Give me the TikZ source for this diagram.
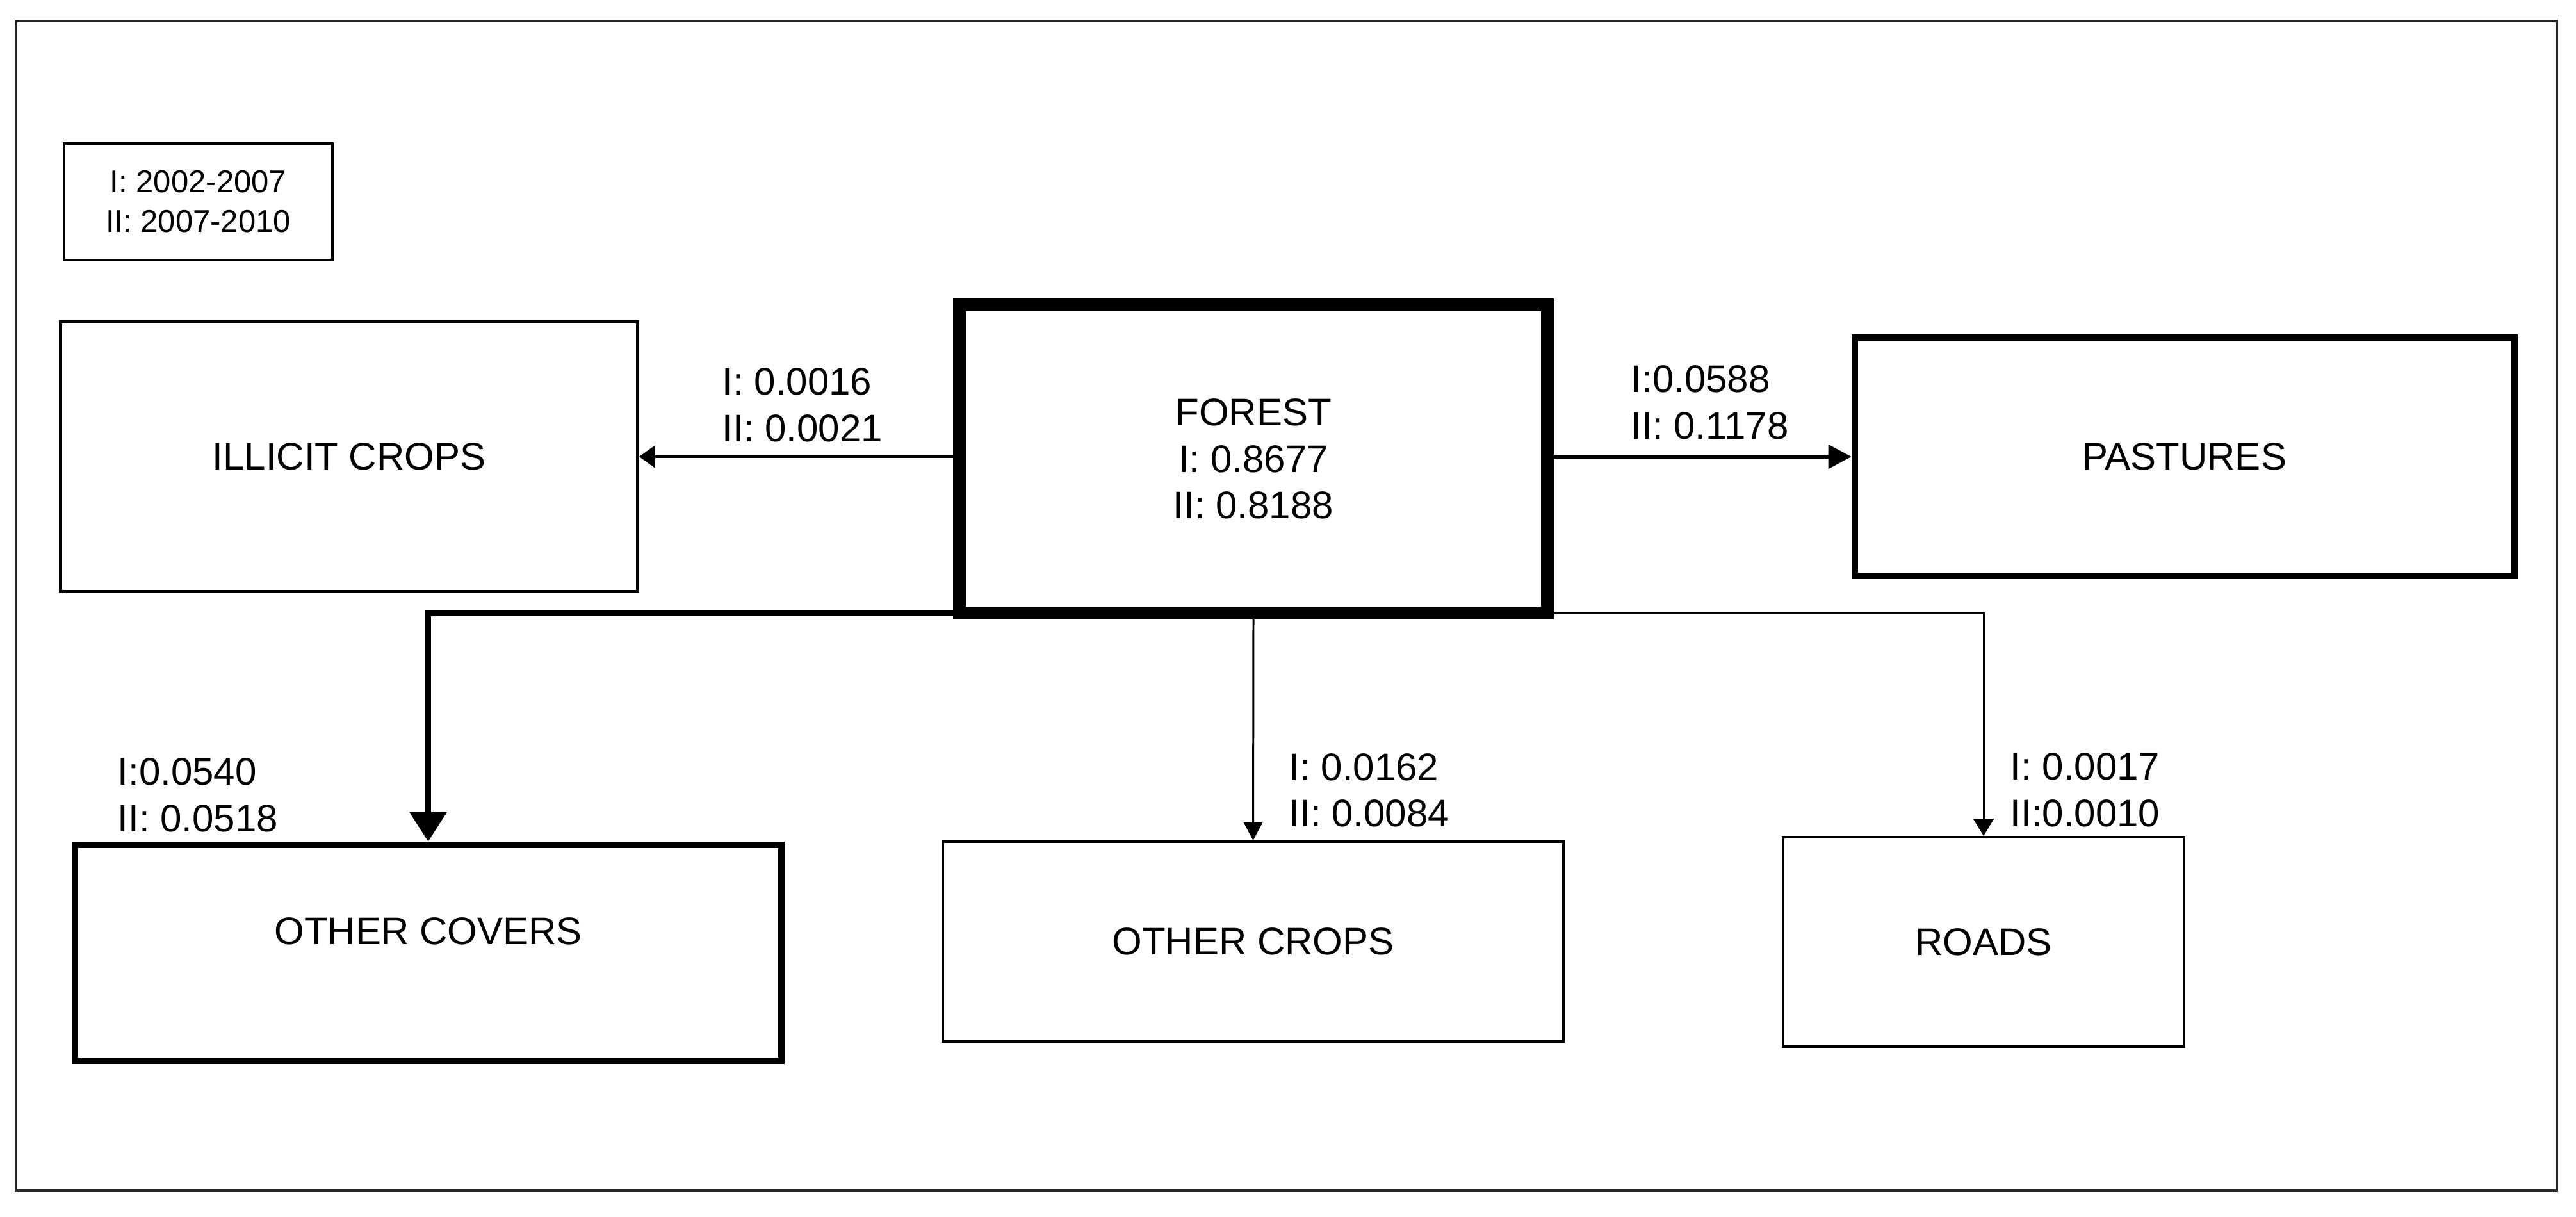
\documentclass[tikz,border=0pt]{standalone}
\usepackage{fontspec}
\setmainfont{Liberation Sans}
\usetikzlibrary{arrows.meta}
\begin{document}
\begin{tikzpicture}[
  every node/.style={font=\fontsize{17.07pt}{20.6pt}\selectfont},
  box/.style={draw, rectangle, inner sep=0pt, align=center},
  lbl/.style={anchor=west, inner sep=0pt, align=left},
]
\useasboundingbox (0,0) rectangle (40.22,18.99);
\draw[line width=1.3pt, black!85] (0.25,0.40) rectangle (39.92,18.66);

\node[box, line width=1.1pt, minimum width=4.19cm, minimum height=1.82cm,
      font=\fontsize{13.94pt}{17.6pt}\selectfont] (legend) at (3.095,15.84) {I: 2002-2007\\II: 2007-2010};

\node[box, line width=1.4pt, minimum width=9.01cm, minimum height=4.21cm] (illicit) at (5.45,11.86) {ILLICIT CROPS};
\node[box, line width=5.7pt, outer sep=0pt, minimum width=9.18cm, minimum height=4.81cm] (forest) at (19.57,11.825) {FOREST\\I: 0.8677\\II: 0.8188};
\node[box, line width=3.1pt, minimum width=10.29cm, minimum height=3.72cm] (past) at (34.105,11.86) {PASTURES};
\node[box, line width=2.85pt, minimum width=11.03cm, minimum height=3.37cm,
      label={[yshift=0.34cm]center:OTHER COVERS}] (ocov) at (6.685,4.115) {};
\node[box, line width=1.1pt, minimum width=9.69cm, minimum height=3.12cm] (ocrop) at (19.565,4.29) {OTHER CROPS};
\node[box, line width=1.1pt, minimum width=6.26cm, minimum height=3.27cm] (roads) at (30.97,4.285) {ROADS};

\draw[line width=1.1pt, -{Triangle[length=0.25cm,width=0.35cm]}] (forest.west |- illicit.east) -- (illicit.east);
\draw[line width=1.6pt, -{Triangle[length=0.36cm,width=0.37cm]}] (forest.east |- past.west) -- (past.west);
\draw[line width=2.8pt, -{Triangle[length=0.46cm,width=0.56cm]}] (forest.south west) -| (ocov.north);
\draw[line width=0.85pt, -{Triangle[length=0.28cm,width=0.29cm]}] (forest.south) -- (ocrop.north);
\draw[line width=0.85pt, -{Triangle[length=0.27cm,width=0.32cm]}] (forest.south east) -| (roads.north);

\node[lbl] (l1) at (11.27,12.665) {I: 0.0016\\II: 0.0021};
\node[lbl] (l2) at (25.46,12.705) {I:0.0588\\II: 0.1178};
\node[lbl] (l3) at (1.83,6.575) {I:0.0540\\II: 0.0518};
\node[lbl] (l4) at (20.12,6.65) {I: 0.0162\\II: 0.0084};
\node[lbl] (l5) at (31.38,6.655) {I: 0.0017\\II:0.0010};
\end{tikzpicture}
\end{document}
